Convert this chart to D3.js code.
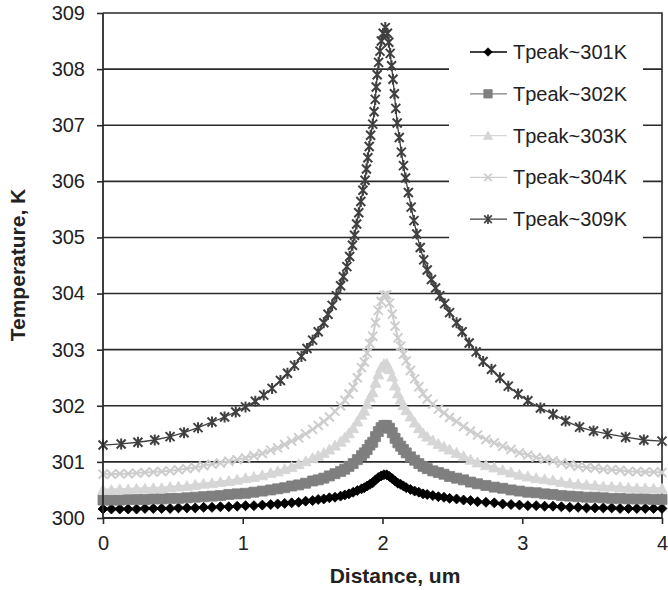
<!DOCTYPE html>
<meta charset="utf-8">
<style>
  body { margin: 0; background: #fff; }
  text { font-family: Arial, "Liberation Sans", sans-serif; fill: #222; }
</style>
<svg id="chart" width="668" height="590"></svg>
<script src="https://d3js.org/d3.v7.min.js"></script>
<script>

// shared distance grid for the four dense series (um)
var distance = [0.00,0.06,0.12,0.18,0.24,0.30,0.36,0.42,0.48,0.54,0.60,0.66,0.72,0.78,0.84,0.90,0.96,1.02,1.08,1.14,1.20,
  1.25,1.30,1.35,1.40,1.45,1.50,1.54,1.58,1.62,1.66,1.70,1.73,1.76,1.79,1.82,1.85,
  1.87,1.89,1.91,1.93,1.95,1.97,1.99,2.01,2.03,2.05,2.07,2.09,2.11,2.13,2.15,2.17,
  2.20,2.23,2.26,2.29,2.32,2.36,2.40,2.44,2.48,2.53,2.58,2.63,2.68,
  2.74,2.80,2.86,2.92,2.98,3.04,3.10,3.16,3.22,3.28,3.34,3.40,3.46,3.52,3.58,3.64,3.70,3.76,3.82,3.88,3.94,4.00];

var temp301 = [300.16,300.16,300.16,300.16,300.16,300.17,300.17,300.17,300.17,300.18,300.18,300.18,300.19,300.19,300.20,300.20,300.21,300.22,300.22,300.23,300.24,
  300.25,300.26,300.27,300.28,300.30,300.31,300.33,300.34,300.36,300.37,300.39,300.41,300.43,300.46,300.49,300.52,
  300.54,300.57,300.60,300.63,300.68,300.72,300.75,300.77,300.77,300.74,300.70,300.66,300.62,300.60,300.57,300.54,
  300.51,300.48,300.46,300.43,300.42,300.40,300.38,300.37,300.35,300.34,300.32,300.31,300.29,
  300.28,300.27,300.25,300.24,300.23,300.22,300.22,300.21,300.21,300.20,300.19,300.19,300.18,300.18,300.18,300.18,300.17,300.17,300.17,300.17,300.17,300.17];

var temp302 = [300.32,300.32,300.32,300.33,300.33,300.33,300.34,300.34,300.35,300.35,300.36,300.37,300.38,300.39,300.40,300.42,300.43,300.44,300.46,300.48,300.50,
  300.52,300.54,300.57,300.59,300.62,300.66,300.68,300.71,300.75,300.79,300.83,300.87,300.92,300.97,301.04,301.11,
  301.16,301.22,301.30,301.35,301.45,301.54,301.61,301.65,301.65,301.60,301.52,301.42,301.34,301.28,301.22,301.16,
  301.09,301.03,300.97,300.92,300.88,300.84,300.81,300.78,300.74,300.71,300.68,300.64,300.61,
  300.58,300.55,300.53,300.50,300.48,300.46,300.45,300.43,300.42,300.40,300.39,300.38,300.37,300.37,300.36,300.35,300.35,300.34,300.34,300.34,300.33,300.33];

var temp303 = [300.50,300.50,300.51,300.51,300.52,300.52,300.53,300.53,300.55,300.56,300.57,300.59,300.61,300.62,300.64,300.66,300.68,300.71,300.73,300.76,300.80,
  300.83,300.87,300.91,300.96,301.01,301.07,301.11,301.16,301.22,301.29,301.36,301.43,301.51,301.60,301.72,301.84,
  301.91,302.03,302.15,302.24,302.41,302.56,302.68,302.74,302.75,302.65,302.52,302.36,302.22,302.11,302.01,301.92,
  301.81,301.70,301.60,301.51,301.45,301.38,301.32,301.27,301.22,301.16,301.10,301.04,300.99,
  300.94,300.90,300.85,300.81,300.77,300.74,300.71,300.69,300.67,300.64,300.62,300.60,300.59,300.58,300.56,300.56,300.55,300.54,300.53,300.53,300.52,300.52];

var temp304 = [300.78,300.78,300.79,300.79,300.80,300.81,300.82,300.83,300.84,300.86,300.88,300.90,300.93,300.96,300.98,301.01,301.04,301.07,301.11,301.15,301.21,
  301.25,301.31,301.37,301.43,301.50,301.58,301.65,301.72,301.80,301.90,302.00,302.10,302.21,302.33,302.50,302.68,
  302.78,302.94,303.11,303.24,303.48,303.70,303.86,303.97,303.98,303.83,303.63,303.42,303.21,303.06,302.92,302.80,
  302.63,302.48,302.34,302.22,302.12,302.03,301.94,301.87,301.79,301.72,301.63,301.55,301.48,
  301.40,301.34,301.28,301.22,301.16,301.12,301.08,301.05,301.02,300.98,300.95,300.92,300.90,300.89,300.87,300.86,300.85,300.83,300.83,300.82,300.82,300.81];

// the hottest run has its own, coarser grid
var distance309 = [0.00,0.13,0.25,0.37,0.48,0.58,0.68,0.78,0.87,0.95,1.02,1.09,1.15,1.21,1.27,1.32,1.37,1.42,1.46,1.50,
  1.54,1.58,1.61,1.64,1.67,1.70,1.72,1.745,1.765,1.785,1.80,1.815,1.83,1.845,1.86,1.875,1.885,1.895,1.905,1.915,
  1.93,1.94,1.948,1.955,1.962,1.972,1.982,1.992,2.005,2.02,
  2.035,2.045,2.055,2.065,2.075,2.085,2.095,2.105,2.12,2.135,2.15,2.165,2.185,2.205,2.225,2.245,2.27,2.295,2.32,2.35,
  2.38,2.41,2.445,2.48,2.53,2.57,2.62,2.67,2.72,2.78,2.84,2.90,2.97,3.04,3.13,3.22,3.31,3.41,3.51,3.61,3.74,3.87,4.00];

var temp309 = [301.30,301.32,301.35,301.39,301.45,301.52,301.61,301.71,301.80,301.89,301.98,302.08,302.19,302.31,302.45,302.58,302.72,302.88,303.02,303.17,
  303.32,303.48,303.63,303.79,303.96,304.14,304.30,304.48,304.66,304.86,305.04,305.24,305.44,305.64,305.84,306.02,306.22,306.42,306.62,306.82,
  307.02,307.24,307.46,307.68,307.90,308.12,308.32,308.50,308.64,308.74,
  308.64,308.48,308.28,308.06,307.82,307.56,307.30,307.04,306.78,306.52,306.28,306.06,305.80,305.54,305.30,305.06,304.82,304.60,304.42,304.25,
  304.10,303.96,303.82,303.66,303.48,303.32,303.12,302.96,302.79,302.65,302.50,302.35,302.21,302.09,301.96,301.85,301.73,301.62,301.55,301.50,301.44,301.39,301.37];

var seriesNames = ["Tpeak~301K", "Tpeak~302K", "Tpeak~303K", "Tpeak~304K", "Tpeak~309K"];
var xTicks = [0, 1, 2, 3, 4];
var yTicks = [300, 301, 302, 303, 304, 305, 306, 307, 308, 309];

var svg = d3.select("#chart");

var x = d3.scaleLinear().domain([0, 4]).range([103, 662]);
var y = d3.scaleLinear().domain([300, 309]).range([518, 13]);

function pts(xs, ys) { return xs.map(function(d, i) { return [d, ys[i]]; }); }

// marker shapes
var symDiamond = "M0,-5L5,0L0,5L-5,0Z";
var symSquare = "M-5,-5H5V5H-5Z";
var symTri = "M0,-5.5L5.5,4.5H-5.5Z";
var symX = "M-4.5,-4.5L4.5,4.5M-4.5,4.5L4.5,-4.5";
var symStar = "M-4.5,-4.5L4.5,4.5M-4.5,4.5L4.5,-4.5M0,-5.5V5.5";

var series = [
  {name: seriesNames[0], data: pts(distance, temp301), color: "#000000", sym: symDiamond, fill: true, lw: 2.5},
  {name: seriesNames[1], data: pts(distance, temp302), color: "#7f7f7f", sym: symSquare, fill: true, lw: 3},
  {name: seriesNames[2], data: pts(distance, temp303), color: "#d6d6d6", sym: symTri, fill: true, lw: 3},
  {name: seriesNames[3], data: pts(distance, temp304), color: "#cdcdcd", sym: symX, fill: false, lw: 2},
  {name: seriesNames[4], data: pts(distance309, temp309), color: "#404040", sym: symStar, fill: false, lw: 1.3}
];

// gridlines
svg.append("g")
  .selectAll("line")
  .data(yTicks.slice(1, -1))
  .enter().append("line")
    .attr("x1", x(0)).attr("x2", x(4))
    .attr("y1", function(d) { return y(d); })
    .attr("y2", function(d) { return y(d); })
    .style("stroke", "#2a2a2a").style("stroke-width", 1.6);

// top and right border
svg.append("path")
  .attr("d", "M" + x(0) + "," + y(309) + "H" + x(4) + "V" + y(300))
  .style("fill", "none").style("stroke", "#2a2a2a").style("stroke-width", 1.6);

// legend background hides the gridlines behind it
svg.append("rect")
  .attr("x", 449).attr("y", 14).attr("width", 194).attr("height", 234)
  .style("fill", "#fff");

var line = d3.line()
  .x(function(d) { return x(d[0]); })
  .y(function(d) { return y(d[1]); });

series.forEach(function(s) {
  var g = svg.append("g");
  g.append("path")
    .attr("d", line(s.data))
    .style("fill", "none").style("stroke", s.color).style("stroke-width", s.lw);
  g.selectAll("path.m")
    .data(s.data)
    .enter().append("path")
      .attr("class", "m")
      .attr("transform", function(d) { return "translate(" + x(d[0]) + "," + y(d[1]) + ")"; })
      .attr("d", s.sym)
      .style("fill", s.fill ? s.color : "none")
      .style("stroke", s.color)
      .style("stroke-width", s.fill ? 0.8 : 2);
});

// axes
var xAxis = d3.axisBottom(x).tickValues(xTicks).tickSize(6).tickPadding(12).tickFormat(d3.format("d"));
var yAxis = d3.axisLeft(y).tickValues(yTicks).tickSize(6).tickPadding(12).tickFormat(d3.format("d"));

var gx = svg.append("g").attr("transform", "translate(0," + y(300) + ")").call(xAxis);
var gy = svg.append("g").attr("transform", "translate(" + x(0) + ",0)").call(yAxis);

[gx, gy].forEach(function(g) {
  g.selectAll(".domain").style("stroke", "#2a2a2a").style("stroke-width", 1.8);
  g.selectAll(".tick line").style("stroke", "#2a2a2a").style("stroke-width", 1.6);
  g.selectAll(".tick text").style("font-size", "20px").style("fill", "#222")
    .style("font-family", "Arial, 'Liberation Sans', sans-serif");
});
gx.select(".domain").attr("d", "M" + x(0) + ",0H" + x(4));
gy.select(".domain").attr("d", "M0," + y(309) + "V" + y(300));

// axis titles
svg.append("text")
  .attr("x", 395).attr("y", 583)
  .attr("text-anchor", "middle")
  .style("font-size", "21px").style("font-weight", "bold")
  .text("Distance, um");

svg.append("text")
  .attr("transform", "translate(25,265) rotate(-90)")
  .attr("text-anchor", "middle")
  .style("font-size", "21px").style("font-weight", "bold")
  .text("Temperature, K");

// legend (thin lines and small markers, as in the original key)
var legend = svg.append("g")
  .selectAll("g")
  .data(series)
  .enter().append("g")
    .attr("transform", function(d, i) { return "translate(0," + (52 + i * 41.8) + ")"; });

legend.append("line")
  .attr("x1", 470).attr("x2", 507)
  .style("stroke", function(d) { return d.color; }).style("stroke-width", 1.3);

legend.append("path")
  .attr("transform", "translate(488,0) scale(0.85)")
  .attr("d", function(d) { return d.sym; })
  .style("fill", function(d) { return d.fill ? d.color : "none"; })
  .style("stroke", function(d) { return d.color; })
  .style("stroke-width", function(d) { return d.fill ? 0.8 : 2; });

legend.append("text")
  .attr("x", 513).attr("dy", "0.35em")
  .style("font-size", "20px")
  .text(function(d) { return d.name; });

</script>
